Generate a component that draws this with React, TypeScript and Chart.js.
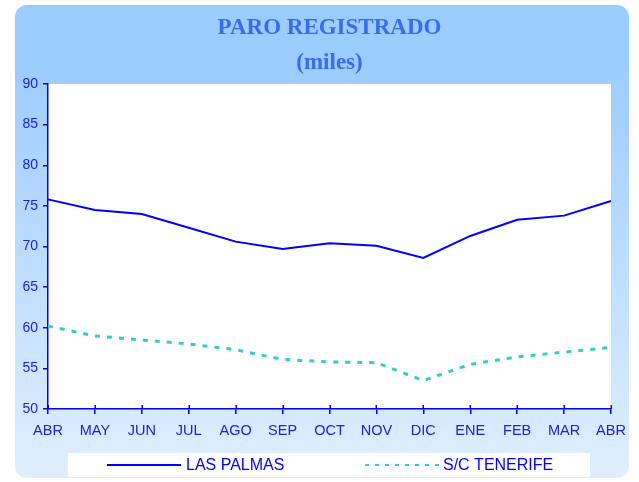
import React, { useEffect, useRef } from "react";
import { Chart, registerables } from "chart.js";

Chart.register(...registerables);

// ---- data ----
const months = ["ABR", "MAY", "JUN", "JUL", "AGO", "SEP", "OCT", "NOV", "DIC", "ENE", "FEB", "MAR", "ABR"];
const lasPalmas = [75.8, 74.5, 74.0, 72.3, 70.6, 69.7, 70.4, 70.1, 68.6, 71.3, 73.3, 73.8, 75.6];
const tenerife = [60.2, 59.0, 58.5, 58.0, 57.3, 56.1, 55.8, 55.7, 53.5, 55.5, 56.4, 57.0, 57.6];
const seriesNames = ["LAS PALMAS", "S/C TENERIFE"];
const titleLines = ["PARO REGISTRADO", "(miles)"];
const yMin = 50;
const yMax = 90;
const yStep = 5;

const AXIS_BLUE = "#0000ff";
const LABEL_BLUE = "#2020e0";
const SANS = "'Liberation Sans', Arial, sans-serif";
const SERIF = "'Liberation Serif', 'Times New Roman', serif";

const panelPlugin = {
  id: "panelBg",
  beforeDraw(chart: any) {
    const { ctx, chartArea: a } = chart;
    ctx.save();
    ctx.fillStyle = "#ffffff";
    ctx.fillRect(0, 0, chart.width, chart.height);
    const g = ctx.createLinearGradient(0, 5, 0, 478);
    g.addColorStop(0, "#99ccff");
    g.addColorStop(0.14, "#9dcdff");
    g.addColorStop(1, "#e0efff");
    ctx.fillStyle = g;
    ctx.beginPath();
    if (ctx.roundRect) ctx.roundRect(15, 5, 614, 473, 12);
    else ctx.rect(15, 5, 614, 473);
    ctx.fill();
    ctx.fillStyle = "#ffffff";
    ctx.fillRect(a.left, a.top, a.right - a.left, a.bottom - a.top);

    // title, centred over the plot area
    const cx = (a.left + a.right) / 2;
    ctx.fillStyle = "#3a6cf0";
    ctx.font = `bold 23px ${SERIF}`;
    ctx.textAlign = "center";
    ctx.textBaseline = "middle";
    titleLines.forEach((t, i) => ctx.fillText(t, cx, 28 + i * 35));
    ctx.restore();
  },
  afterDraw(chart: any) {
    const { ctx, chartArea: a } = chart;
    const xs = chart.scales.x;
    ctx.save();
    // inner half of x tick marks
    ctx.strokeStyle = AXIS_BLUE;
    ctx.lineWidth = 1.5;
    ctx.beginPath();
    xs.ticks.forEach((_t: any, i: number) => {
      const x = Math.round(xs.getPixelForTick(i)) + 0.25;
      ctx.moveTo(x, a.bottom - 4);
      ctx.lineTo(x, a.bottom);
    });
    ctx.stroke();

    // legend
    ctx.fillStyle = "#ffffff";
    ctx.fillRect(68, 453, 522, 24);
    const ds = chart.data.datasets;
    const items = [
      { x0: 107, x1: 181, tx: 186 },
      { x0: 365, x1: 439, tx: 443 },
    ];
    const ly = 465;
    ctx.font = `16px ${SANS}`;
    ctx.textBaseline = "middle";
    ctx.textAlign = "left";
    items.forEach((it, i) => {
      const d = ds[i];
      ctx.beginPath();
      ctx.strokeStyle = d.borderColor;
      ctx.lineWidth = 2;
      ctx.setLineDash(i === 0 ? [] : [4, 6]);
      ctx.moveTo(it.x0, ly);
      ctx.lineTo(it.x1, ly);
      ctx.stroke();
      ctx.setLineDash([]);
      ctx.fillStyle = AXIS_BLUE;
      ctx.fillText(d.label, it.tx, ly + 1);
    });
    ctx.restore();
  },
};

export default function App() {
  const ref = useRef<HTMLCanvasElement | null>(null);

  useEffect(() => {
    if (!ref.current) return;
    const chart = new Chart(ref.current, {
      type: "line",
      data: {
        labels: months,
        datasets: [
          {
            label: seriesNames[0],
            data: lasPalmas,
            borderColor: "#0000ff",
            backgroundColor: "#0000ff",
            borderWidth: 2,
            pointRadius: 0,
            tension: 0,
            fill: false,
          },
          {
            label: seriesNames[1],
            data: tenerife,
            borderColor: "#33cccc",
            backgroundColor: "#33cccc",
            borderWidth: 3,
            borderDash: [5, 7],
            pointRadius: 0,
            tension: 0,
            fill: false,
          },
        ],
      },
      options: {
        animation: false,
        responsive: false,
        devicePixelRatio: 1,
        layout: { padding: { left: 0, right: 28, top: 84, bottom: 43 } },
        plugins: {
          legend: { display: false },
          tooltip: { enabled: false },
          title: { display: false },
        },
        scales: {
          x: {
            type: "category",
            offset: false,
            grid: { drawOnChartArea: false, drawTicks: true, tickLength: 5, color: AXIS_BLUE, lineWidth: 1.5 },
            border: { display: true, color: AXIS_BLUE, width: 1.5 },
            ticks: { color: LABEL_BLUE, font: { family: SANS, size: 14.5 }, padding: 8, maxRotation: 0, autoSkip: false },
            afterFit(s: any) {
              s.height = 30;
            },
          },
          y: {
            min: yMin,
            max: yMax,
            grid: { drawOnChartArea: false, drawTicks: true, tickLength: 5, color: AXIS_BLUE, lineWidth: 1.5 },
            border: { display: true, color: AXIS_BLUE, width: 1.5 },
            ticks: { stepSize: yStep, color: LABEL_BLUE, font: { family: SANS, size: 14 }, padding: 5 },
            afterFit(s: any) {
              s.width = 48;
            },
          },
        },
      },
      plugins: [panelPlugin],
    });
    return () => chart.destroy();
  }, []);

  return (
    <div style={{ position: "absolute", left: 0, top: 0, width: 639, height: 482 }}>
      <canvas ref={ref} width={639} height={482} style={{ display: "block", width: 639, height: 482 }} />
    </div>
  );
}
